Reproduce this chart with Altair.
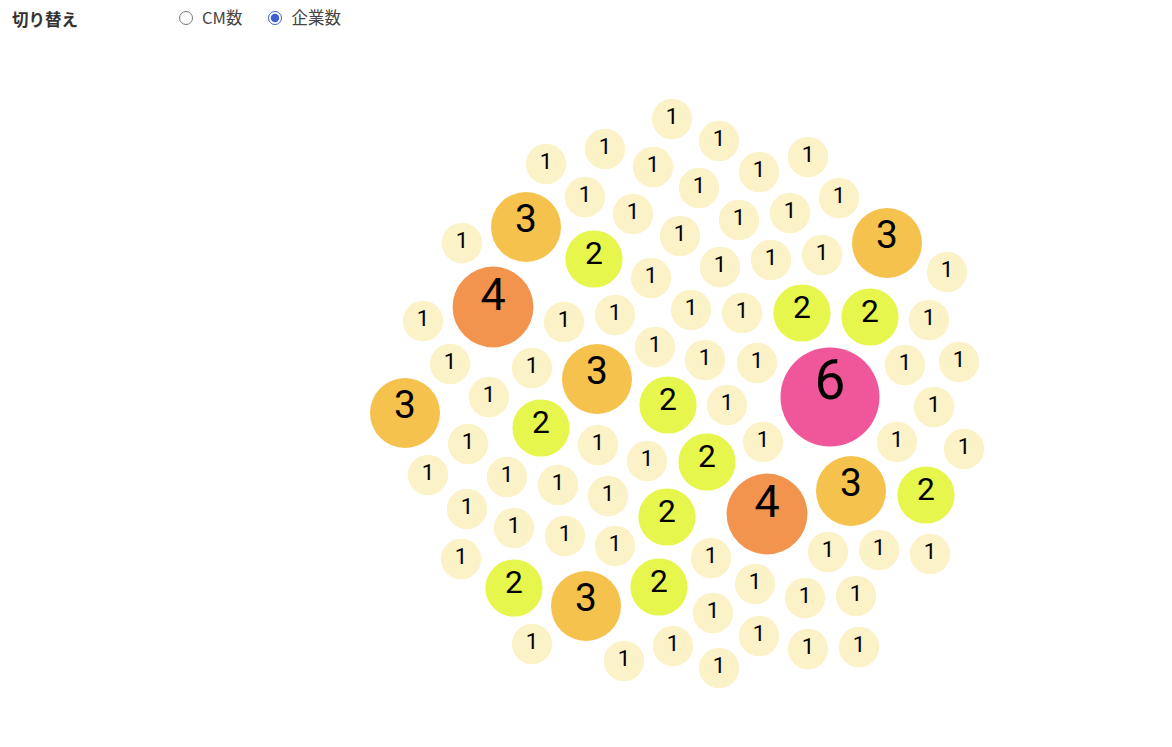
import altair as alt
import jinja2
import pandas as pd
from altair.utils.html import HTML_TEMPLATE

# bubble positions (force layout, px from the cluster centre, y down) and company counts
xs = [-5, -72, 42, -131, -24, 131, 82, -92, 22, -44, 162, 62, 113, -151, 3,
      210, -215, -83, 43, 94, 145, -26, 270, -184, -254, -113, -62, 14, 65, 125,
      193, 252, -22, -227, -145, -80, 28, 80, 153, 228, 282, -272, -188, -9, 50,
      257, -136, -209, -79, 86, 220, 287, -30, 30, -249, -170, -119, -69, 174, 249,
      -210, 90, -163, -112, -10, -62, -216, 34, 151, 202, 253, -163, -91, -18, 78,
      128, 179, 36, -145, -53, -4, 82, 131, 182, 42]
ys = [-275, -245, -253, -230, -227, -237, -222, -197, -206, -180, -196, -174, -181, -167, -158,
      -151, -151, -135, -127, -134, -139, -116, -122, -87, -73, -72, -79, -84, -81, -81,
      -77, -74, -47, -30, -26, -15, -34, -31, 3, -29, -32, 19, 3, 11, 11,
      13, 34, 50, 51, 48, 48, 55, 67, 68, 81, 83, 91, 102, 97, 101,
      115, 120, 134, 142, 123, 152, 165, 164, 158, 156, 160, 194, 212, 193, 190,
      204, 202, 219, 250, 267, 252, 242, 255, 253, 274]
companies = [1, 1, 1, 1, 1, 1, 1, 1, 1, 1, 1, 1, 1, 3, 1,
             3, 1, 2, 1, 1, 1, 1, 1, 4, 1, 1, 1, 1, 1, 2,
             2, 1, 1, 1, 1, 3, 1, 1, 6, 1, 1, 3, 1, 2, 1,
             1, 2, 1, 1, 1, 1, 1, 1, 2, 1, 1, 1, 1, 3, 2,
             1, 4, 1, 1, 2, 1, 1, 1, 1, 1, 1, 2, 3, 2, 1,
             1, 1, 1, 1, 1, 1, 1, 1, 1, 1]

count_levels = [1, 2, 3, 4, 6]
count_colors = ['#fbf2c8', '#e6f64c', '#f5c24e', '#f2934e', '#f0579a']
modes = ['CM数', '企業数']

df = pd.DataFrame({'x': xs, 'y': ys, '企業数': companies})

toggle = alt.param(
    name='toggle', value='企業数',
    bind=alt.binding_radio(options=modes, name='切り替え')
)

x_enc = alt.X('x:Q', axis=None, scale=alt.Scale(domain=[-669, 487]))
y_enc = alt.Y('y:Q', axis=None, scale=alt.Scale(domain=[-386, 314], reverse=True))

# symbol size is the square round the circle: (2r)^2, r = 20 * sqrt(count)
bubbles = alt.Chart(df).mark_circle(opacity=1).encode(
    x=x_enc,
    y=y_enc,
    size=alt.Size('企業数:Q', scale=alt.Scale(domain=[0, 6], range=[0, 9800]), legend=None),
    color=alt.Color('企業数:O', scale=alt.Scale(domain=count_levels, range=count_colors), legend=None),
    tooltip=['企業数:Q']
)

labels = alt.Chart(df).transform_calculate(
    ty='datum.y - 2.5 * datum["企業数"]'
).mark_text(font='Roboto', color='#000', baseline='middle', align='center').encode(
    x=x_enc,
    y=alt.Y('ty:Q', axis=None, scale=alt.Scale(domain=[-386, 314], reverse=True)),
    text=alt.Text('企業数:Q'),
    size=alt.Size('企業数:Q', scale=alt.Scale(type='sqrt', domain=[0, 6], range=[0, 55]), legend=None)
)

chart = alt.layer(bubbles, labels).add_params(toggle).properties(
    width=1156, height=700, padding=0
).resolve_scale(size='independent').configure_view(stroke=None)

# the radio buttons sit above the chart, as in the original page
BIND_CSS = """
<style>
  #vis .vega-bindings { position: absolute; top: -3px; left: 4px; margin: 0;
    font-family: "Noto Sans CJK JP", sans-serif; }
  #vis .vega-bind-name { display: inline-block; width: 162px; font-weight: bold;
    font-size: 16.5px; color: #333; position: relative; top: 2px; }
  #vis .vega-bind-radio label { font-size: 16.5px; color: #444; margin-right: 21px; }
  #vis .vega-bind-radio input { width: 14px; height: 14px; margin: 0 9px 0 5px;
    vertical-align: -1px; accent-color: #3f5fcf; }
</style>
"""


class PageTemplate(jinja2.Template):
    def render(self, *args, **kwargs):
        html = HTML_TEMPLATE.render(*args, **kwargs)
        return html.replace('</head>', BIND_CSS + '</head>', 1)


chart.save("out.html", embed_options={"renderer": "svg", "actions": False},
           template=PageTemplate(''))
